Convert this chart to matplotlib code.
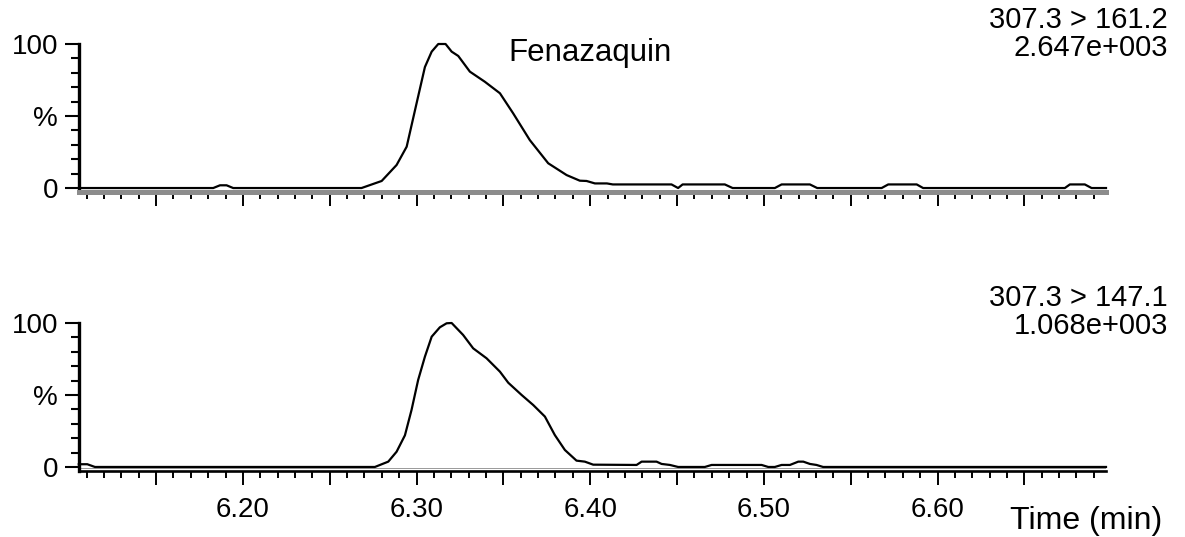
#!/usr/bin/env python3
"""MRM chromatogram pair for Fenazaquin (two transitions, normalised to 100 %)."""
import matplotlib
matplotlib.use("Agg")
import matplotlib.pyplot as plt
from matplotlib.ticker import MultipleLocator, FixedLocator, FuncFormatter

plt.rcParams["font.family"] = ["Liberation Sans", "DejaVu Sans"]

# ── data ──────────────────────────────────────────────────────────────────────
T_MIN, T_MAX = 6.1055, 6.697

top_time = [6.1055, 6.1829, 6.1868, 6.1906, 6.1944, 6.2683, 6.2799, 6.2885,
            6.2943, 6.3000, 6.3048, 6.3087, 6.3125, 6.3167, 6.3202, 6.3240,
            6.3307, 6.3393, 6.3480, 6.3556, 6.3652, 6.3758, 6.3864, 6.3940,
            6.3979, 6.4027, 6.4096, 6.4130, 6.4468, 6.4506, 6.4532, 6.4775,
            6.4820, 6.5063, 6.5102, 6.5265, 6.5307, 6.5678, 6.5716, 6.5880,
            6.5917, 6.6733, 6.6762, 6.6848, 6.6887, 6.697]
top_pct = [0, 0, 1.9, 1.9, 0, 0, 4.9, 16.0,
           28.7, 58.8, 84.0, 94.7, 100, 100, 94.7, 91.7,
           80.8, 73.8, 65.8, 51.9, 33.3, 17.2, 9.0, 5.1,
           4.9, 3.2, 3.2, 2.5, 2.5, 0, 2.5, 2.5,
           0, 0, 2.5, 2.5, 0, 0, 2.5, 2.5,
           0, 0, 2.5, 2.5, 0, 0]

bot_time = [6.1055, 6.1104, 6.1148, 6.2760, 6.2837, 6.2885, 6.2933, 6.2971,
            6.3009, 6.3048, 6.3087, 6.3134, 6.3173, 6.3202, 6.3268, 6.3326,
            6.3403, 6.3480, 6.3528, 6.3605, 6.3672, 6.3739, 6.3796, 6.3854,
            6.3921, 6.3969, 6.4017, 6.4267, 6.4296, 6.4382, 6.4411, 6.4459,
            6.4506, 6.4660, 6.4699, 6.4987, 6.5025, 6.5063, 6.5102, 6.5150,
            6.5198, 6.5227, 6.5265, 6.5303, 6.5341, 6.697]
bot_pct = [1.9, 1.9, 0, 0, 3.7, 10.6, 22.0, 39.6,
           60.4, 76.6, 90.5, 97.0, 99.8, 100, 91.7, 82.4,
           75.5, 66.2, 58.5, 50.0, 43.0, 35.0, 22.2, 11.8,
           4.4, 3.7, 1.6, 1.4, 3.7, 3.7, 2.1, 1.4,
           0, 0, 1.4, 1.4, 0, 0, 1.4, 1.4,
           3.7, 3.7, 2.1, 1.4, 0, 0]

compound = "Fenazaquin"
top_channel, top_height = "307.3 > 161.2", "2.647e+003"
bot_channel, bot_height = "307.3 > 147.1", "1.068e+003"
y_ticks = [0, 50, 100]
y_labels = ["0", "%", "100"]
x_label = "Time (min)"

W, H = 1185, 537


def fx(px):
    return px / W


def fy(py):
    return 1 - py / H


def time_label(v, pos):
    # labels only on the 0.1 min marks
    return "%.2f" % v if abs(v * 10 - round(v * 10)) < 1e-6 else ""


def setup(ax, floor, spine_color, spine_lw, labels):
    ax.set_xlim(T_MIN, T_MAX)
    ax.set_ylim(floor, 100)
    ax.spines["top"].set_visible(False)
    ax.spines["right"].set_visible(False)
    ax.spines["left"].set_linewidth(2.4)
    ax.spines["bottom"].set_color(spine_color)
    ax.spines["bottom"].set_linewidth(spine_lw)
    ax.spines["bottom"].set_zorder(3)
    ax.spines["left"].set_zorder(3)

    ax.yaxis.set_major_locator(FixedLocator(y_ticks))
    ax.set_yticklabels(y_labels)
    ax.yaxis.set_minor_locator(MultipleLocator(10))
    ax.tick_params(axis="y", which="major", length=10, width=1.5, labelsize=20, pad=5)
    ax.tick_params(axis="y", which="minor", length=6, width=1.5)

    ax.xaxis.set_major_locator(MultipleLocator(0.05))
    ax.xaxis.set_minor_locator(MultipleLocator(0.01))
    ax.xaxis.set_major_formatter(FuncFormatter(time_label))
    ax.tick_params(axis="x", which="major", length=10, width=1.4, color="black",
                   labelsize=20, pad=9, labelbottom=labels)
    ax.tick_params(axis="x", which="minor", length=4.7, width=1.4, color="black")


fig = plt.figure(figsize=(W / 100, H / 100), dpi=100)

ax_top = fig.add_axes([fx(78.8), fy(192.5), fx(1106 - 78.8), 148.5 / H])
setup(ax_top, -3.1, "0.55", 3.6, False)
ax_top.plot(top_time, top_pct, color="black", lw=1.6, clip_on=False, zorder=4)

ax_bot = fig.add_axes([fx(78.8), fy(471), fx(1106 - 78.8), 148 / H])
setup(ax_bot, -2.8, "black", 1.9, True)
ax_bot.axhline(-1.0, color="0.6", lw=0.7, zorder=2)
ax_bot.plot(bot_time, bot_pct, color="black", lw=1.6, clip_on=False, zorder=4)

fig.text(fx(590), fy(60.7), compound, ha="center", va="baseline", fontsize=22.5)
fig.text(fx(1168), fy(28), top_channel, ha="right", va="baseline", fontsize=21)
fig.text(fx(1168), fy(56), top_height, ha="right", va="baseline", fontsize=21)
fig.text(fx(1168), fy(306), bot_channel, ha="right", va="baseline", fontsize=21)
fig.text(fx(1168), fy(334), bot_height, ha="right", va="baseline", fontsize=21)
fig.text(fx(1162), fy(529), x_label, ha="right", va="baseline", fontsize=23)

fig.savefig("out.png", dpi=100)
